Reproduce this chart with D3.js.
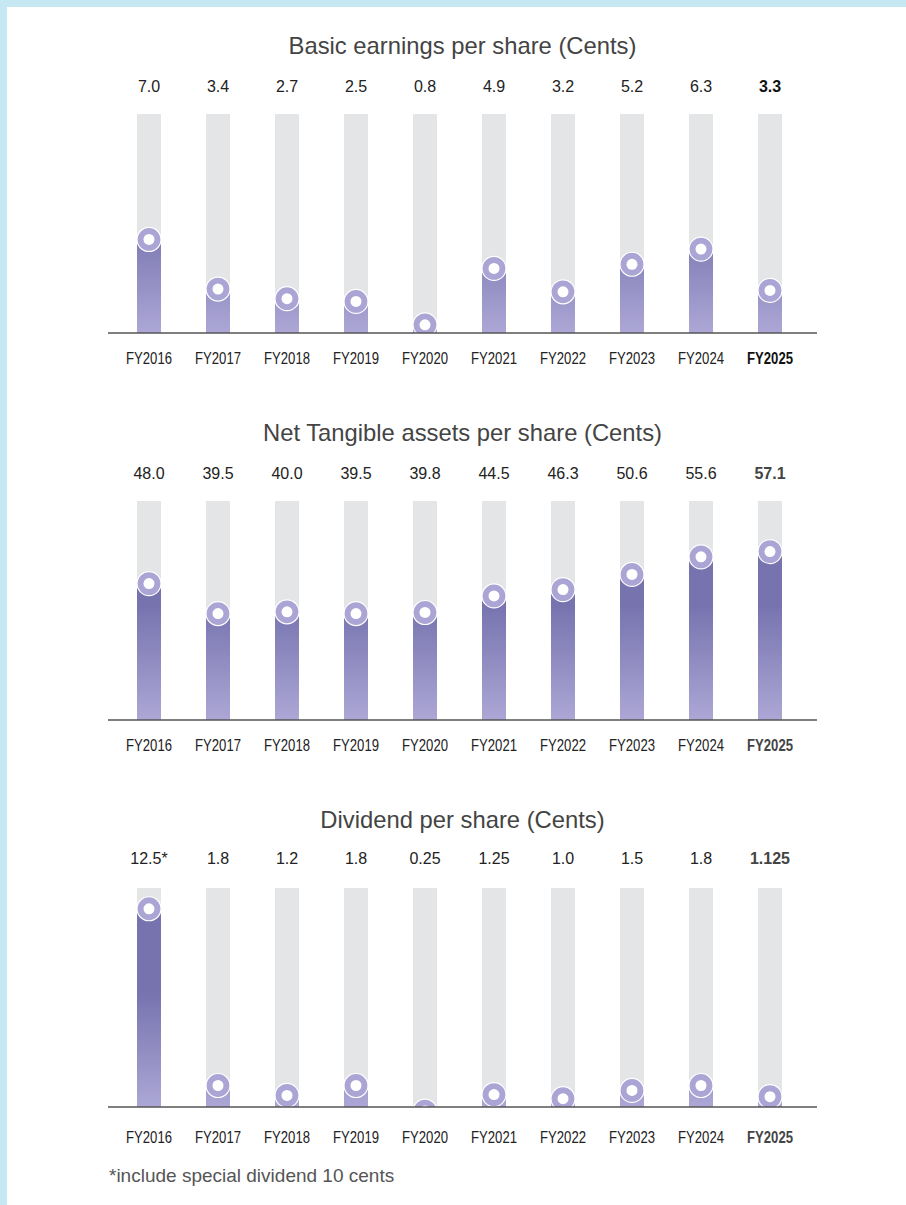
<!DOCTYPE html>
<html><head><meta charset="utf-8">
<script src="https://cdn.jsdelivr.net/npm/d3@7/dist/d3.min.js"></script>
<style>
html,body{margin:0;padding:0;background:#fff;}
svg{display:block;}
</style></head>
<body>
<svg id="chart" width="906" height="1205"></svg>
<script>
const years = ["FY2016","FY2017","FY2018","FY2019","FY2020","FY2021","FY2022","FY2023","FY2024","FY2025"];
const epsValues = [7.0, 3.4, 2.7, 2.5, 0.8, 4.9, 3.2, 5.2, 6.3, 3.3];
const epsLabels = ["7.0","3.4","2.7","2.5","0.8","4.9","3.2","5.2","6.3","3.3"];
const ntaValues = [48.0, 39.5, 40.0, 39.5, 39.8, 44.5, 46.3, 50.6, 55.6, 57.1];
const ntaLabels = ["48.0","39.5","40.0","39.5","39.8","44.5","46.3","50.6","55.6","57.1"];
const dpsValues = [12.5, 1.8, 1.2, 1.8, 0.25, 1.25, 1.0, 1.5, 1.8, 1.125];
const dpsLabels = ["12.5*","1.8","1.2","1.8","0.25","1.25","1.0","1.5","1.8","1.125"];
const titles = ["Basic earnings per share (Cents)","Net Tangible assets per share (Cents)","Dividend per share (Cents)"];
const footnote = "*include special dividend 10 cents";

const charts = [
  {title: titles[0], values: epsValues, labels: epsLabels, domain: [0.5, 16.4], axisY: 333, boldColor: "#111", xlOff: 30.5, valOff: -241},
  {title: titles[1], values: ntaValues, labels: ntaLabels, domain: [10.4, 72.6], axisY: 720, boldColor: "#444", xlOff: 30.5, valOff: -241},
  {title: titles[2], values: dpsValues, labels: dpsLabels, domain: [0.74, 14.0], axisY: 1107, boldColor: "#444", xlOff: 35.5, valOff: -243}
];

const svg = d3.select("#chart");
// frame
svg.append("rect").attr("x",0).attr("y",0).attr("width",906).attr("height",1205).attr("fill","#c5e8f2");
svg.append("rect").attr("x",7).attr("y",7).attr("width",899).attr("height",1198).attr("fill","#fff");

const defs = svg.append("defs");
const plotH = 219;
const axisX0 = 108, axisX1 = 817;
const x = d3.scaleBand().domain(years).range([114.5, 804.5]).paddingInner(0.65).paddingOuter(0.325);
const barW = 24;
const FONT = "'Liberation Sans', Arial, Helvetica, sans-serif";

charts.forEach((c, ci) => {
  const g = svg.append("g");
  const y = d3.scaleLinear().domain(c.domain).range([c.axisY, c.axisY - plotH]);
  const cx = d => x(d) + x.bandwidth()/2;

  const gid = "grad" + ci;
  const grad = defs.append("linearGradient").attr("id", gid)
    .attr("gradientUnits","userSpaceOnUse")
    .attr("x1",0).attr("x2",0).attr("y1", c.axisY - 115).attr("y2", c.axisY);
  grad.append("stop").attr("offset","0%").attr("stop-color","#7673af");
  grad.append("stop").attr("offset","100%").attr("stop-color","#aca7d5");

  const cid = "clip" + ci;
  defs.append("clipPath").attr("id", cid).append("rect")
    .attr("x", 0).attr("y", c.axisY - plotH - 20).attr("width", 906).attr("height", plotH + 20);

  // title
  g.append("text").attr("x", (axisX0 + axisX1)/2).attr("y", c.axisY - 279.5)
    .attr("text-anchor","middle").attr("font-family", FONT).attr("font-size", 23.8)
    .attr("fill","#444").text(c.title);

  // value labels
  g.selectAll(".val").data(years).enter().append("text")
    .attr("x", d => cx(d)).attr("y", c.axisY + c.valOff)
    .attr("text-anchor","middle").attr("font-family", FONT).attr("font-size", 16)
    .attr("font-weight", (d,i) => i === years.length-1 ? "bold" : "normal")
    .attr("fill", (d,i) => i === years.length-1 ? c.boldColor : "#222")
    .text((d,i) => c.labels[i]);

  // grey background bars
  g.selectAll(".bg").data(years).enter().append("rect")
    .attr("x", d => cx(d) - barW/2).attr("width", barW)
    .attr("y", y(c.domain[1])).attr("height", c.axisY - y(c.domain[1]))
    .attr("fill","#e4e5e7");

  // value bars
  g.selectAll(".bar").data(years).enter().append("rect")
    .attr("x", d => cx(d) - barW/2).attr("width", barW)
    .attr("y", (d,i) => Math.min(c.axisY, y(c.values[i])))
    .attr("height", (d,i) => Math.max(0, c.axisY - y(c.values[i])))
    .attr("fill", `url(#${gid})`);

  // markers
  const mk = g.append("g").attr("clip-path", `url(#${cid})`);
  const m = mk.selectAll(".mk").data(years).enter().append("g")
    .attr("transform", (d,i) => `translate(${cx(d)},${y(c.values[i]) - 4})`);
  m.append("circle").attr("r", 12).attr("fill","#aaa5d4").attr("stroke","#fff").attr("stroke-width",1.2);
  m.append("circle").attr("r", 5.5).attr("fill","#fff");

  // axis line
  g.append("line").attr("x1", axisX0).attr("x2", axisX1).attr("y1", c.axisY).attr("y2", c.axisY)
    .attr("stroke","#555").attr("stroke-width",1.3);

  // x labels (condensed look)
  g.selectAll(".xl").data(years).enter().append("text")
    .attr("transform", d => `translate(${cx(d)},${c.axisY + c.xlOff}) scale(0.82,1)`)
    .attr("text-anchor","middle").attr("font-family", FONT).attr("font-size", 16)
    .attr("font-weight", (d,i) => i === years.length-1 ? "bold" : "normal")
    .attr("fill", (d,i) => i === years.length-1 ? c.boldColor : "#222")
    .text(d => d);
});

svg.append("text").attr("x", 109).attr("y", 1182)
  .attr("font-family", FONT).attr("font-size", 19).attr("fill","#555").text(footnote);
</script>
</body></html>
